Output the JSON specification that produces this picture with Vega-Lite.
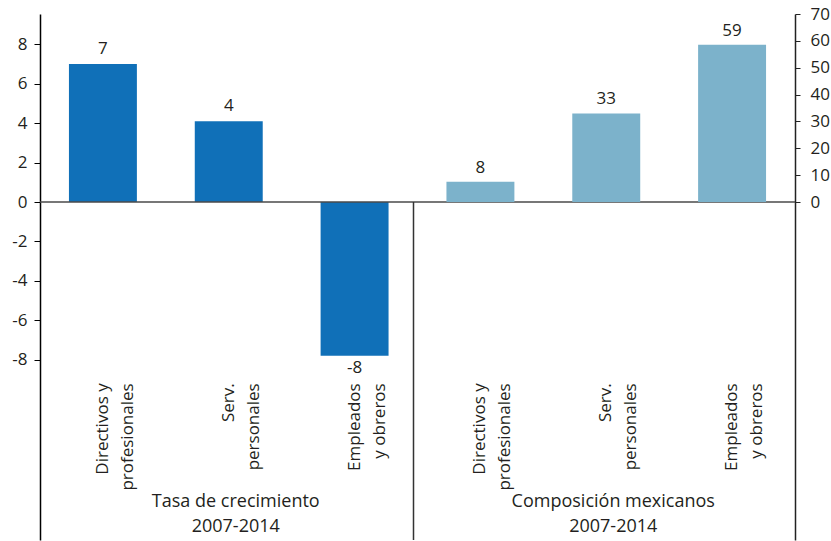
{
  "$schema": "https://vega.github.io/schema/vega-lite/v6.json",
  "autosize": {"type": "none"},
  "width": 755,
  "height": 526,
  "padding": {"left": 40, "top": 14, "right": 36, "bottom": 1},
  "background": "white",
  "config": {
    "locale": {"number": {"decimal": ".", "thousands": ",", "grouping": [3], "currency": ["$", ""], "minus": "-"}},
    "view": {"stroke": null},
    "font": "Open Sans",
    "text": {"font": "Open Sans", "fontSize": 17, "color": "#231f20"},
    "axis": {"labelFont": "Open Sans", "labelFontSize": 17, "labelColor": "#231f20", "grid": false, "title": null}
  },
  "data": {
    "values": [
      {"grupo": "Tasa de crecimiento", "ocupacion": "Directivos y profesionales", "etiqueta": ["Directivos y", "profesionales"], "valor": 7.0},
      {"grupo": "Tasa de crecimiento", "ocupacion": "Serv. personales", "etiqueta": ["Serv.", "personales"], "valor": 4.1},
      {"grupo": "Tasa de crecimiento", "ocupacion": "Empleados y obreros", "etiqueta": ["Empleados", "y obreros"], "valor": -7.8},
      {"grupo": "Composición mexicanos", "ocupacion": "Directivos y profesionales", "etiqueta": ["Directivos y", "profesionales"], "valor": 7.6},
      {"grupo": "Composición mexicanos", "ocupacion": "Serv. personales", "etiqueta": ["Serv.", "personales"], "valor": 33.0},
      {"grupo": "Composición mexicanos", "ocupacion": "Empleados y obreros", "etiqueta": ["Empleados", "y obreros"], "valor": 58.6}
    ]
  },
  "encoding": {
    "x": {"field": "grupo", "type": "nominal", "axis": null,
          "scale": {"domain": ["Tasa de crecimiento", "Composición mexicanos"], "paddingInner": 0, "paddingOuter": 0}},
    "xOffset": {"field": "ocupacion", "type": "nominal",
          "scale": {"domain": ["Directivos y profesionales", "Serv. personales", "Empleados y obreros"], "paddingInner": 0.46, "paddingOuter": 0.23}}
  },
  "layer": [
    {
      "layer": [
        {
          "transform": [{"filter": "datum.grupo === 'Tasa de crecimiento'"}],
          "mark": {"type": "bar", "color": "#1070b8"},
          "encoding": {
            "y": {"field": "valor", "type": "quantitative",
                  "scale": {"domain": [-17.15, 9.54], "nice": false, "zero": false},
                  "axis": {"orient": "left", "values": [-8, -6, -4, -2, 0, 2, 4, 6, 8], "format": "d", "domainColor": "#000", "domainWidth": 1.5, "tickColor": "#000", "tickSize": 6, "labelPadding": 7, "title": null}}
          }
        },
        {
          "transform": [{"filter": "datum.grupo === 'Tasa de crecimiento' && datum.valor >= 0"}],
          "mark": {"type": "text", "baseline": "alphabetic", "dy": -10},
          "encoding": {
            "y": {"field": "valor", "type": "quantitative"},
            "text": {"field": "valor", "type": "quantitative", "format": ".0f"}
          }
        },
        {
          "transform": [{"filter": "datum.grupo === 'Tasa de crecimiento' && datum.valor < 0"}],
          "mark": {"type": "text", "baseline": "top", "dy": 4},
          "encoding": {
            "y": {"field": "valor", "type": "quantitative"},
            "text": {"field": "valor", "type": "quantitative", "format": ".0f"}
          }
        },
        {
          "mark": {"type": "text", "angle": 270, "align": "right", "baseline": "middle", "lineHeight": 25},
          "encoding": {
            "y": {"datum": -9.2},
            "text": {"field": "etiqueta"}
          }
        },
        {
          "data": {"values": [{}]},
          "mark": {"type": "rule", "color": "#4a4a4a", "strokeWidth": 1.6},
          "encoding": {"x": null, "xOffset": null, "y": {"datum": 0}}
        },
        {
          "data": {"values": [{}]},
          "mark": {"type": "rule", "color": "#333333", "strokeWidth": 1.5, "xOffset": -4},
          "encoding": {
            "x": {"datum": "Composición mexicanos", "type": "nominal", "bandPosition": 0},
            "xOffset": null,
            "y": {"datum": 0},
            "y2": {"datum": -17.15}
          }
        },
        {
          "data": {"values": [
            {"grupo": "Tasa de crecimiento", "titulo": ["Tasa de crecimiento", "2007-2014"]},
            {"grupo": "Composición mexicanos", "titulo": ["Composición mexicanos", "2007-2014"]}
          ]},
          "mark": {"type": "text", "baseline": "alphabetic", "lineHeight": 25, "dx": 7, "fontSize": 18},
          "encoding": {
            "xOffset": null,
            "y": {"datum": -15.5},
            "text": {"field": "titulo"}
          }
        }
      ]
    },
    {
      "layer": [
        {
          "transform": [{"filter": "datum.grupo === 'Composición mexicanos'"}],
          "mark": {"type": "bar", "color": "#7cb2cb"},
          "encoding": {
            "y": {"field": "valor", "type": "quantitative",
                  "scale": {"domain": [-125.8, 70], "nice": false, "zero": false},
                  "axis": {"orient": "right", "values": [0, 10, 20, 30, 40, 50, 60, 70], "domainColor": "#222", "domainWidth": 1.5, "tickColor": "#222", "tickSize": 5, "labelPadding": 10, "title": null}}
          }
        },
        {
          "transform": [{"filter": "datum.grupo === 'Composición mexicanos'"}],
          "mark": {"type": "text", "baseline": "alphabetic", "dy": -9},
          "encoding": {
            "y": {"field": "valor", "type": "quantitative"},
            "text": {"field": "valor", "type": "quantitative", "format": ".0f"}
          }
        }
      ]
    }
  ],
  "resolve": {"scale": {"y": "independent"}, "axis": {"y": "independent"}}
}
